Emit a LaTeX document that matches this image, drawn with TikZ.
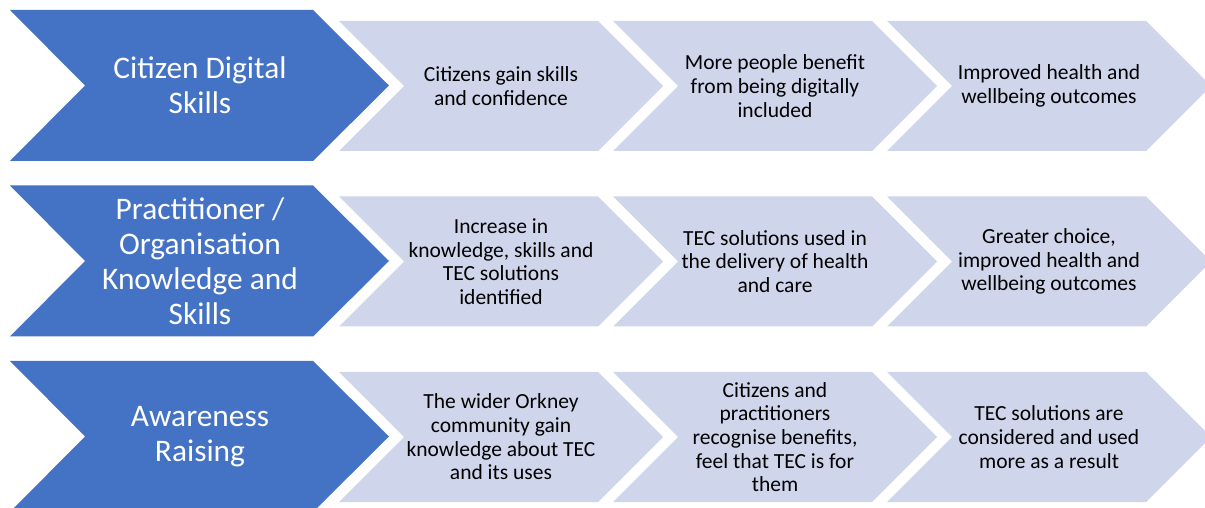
\documentclass[tikz,border=0pt]{standalone}
\usepackage{fontspec}
\setmainfont{Carlito}
\definecolor{headblue}{HTML}{4472C4}
\definecolor{steplav}{HTML}{CFD5EA}
\tikzset{
  head/.style={text=white,align=center,font=\fontsize{31.5}{35}\selectfont},
  stage/.style={text=black,align=center,font=\fontsize{21.6}{23.7}\selectfont}
}

\begin{document}
\begin{tikzpicture}[x=1bp,y=-1bp]
\clip (0,0) rectangle (1205,508);
% big blue chevrons
\foreach \t in {10,185.5,361}
  \fill[headblue] (10,\t) -- (313,\t) -- (389,\t+75.5) -- (313,\t+151)
    -- (10,\t+151) -- (85,\t+75.5) -- cycle;
% light chevrons
\foreach \t in {21,196.5,372}
  \foreach \l in {339,613,887}
    \fill[steplav] (\l,\t) -- (\l+259,\t) -- (\l+324,\t+65) -- (\l+259,\t+130)
      -- (\l,\t+130) -- (\l+65,\t+65) -- cycle;

% row 1
\node[head] (citizen) at (200,85.5) {Citizen Digital\\Skills};
\node[stage] (gain) at (501,86) {Citizens gain skills\\and confidence};
\node[stage] (benefit) at (775,86) {More people benefit\\from being digitally\\included};
\node[stage] (outcomes) at (1049,86) {Improved health and\\wellbeing outcomes};
% row 2
\node[head] (practitioner) at (200,261) {Practitioner /\\Organisation\\Knowledge and\\Skills};
\node[stage] (increase) at (501,261.5) {Increase in\\knowledge, skills and\\TEC solutions\\identified};
\node[stage] (delivery) at (775,261.5) {TEC solutions used in\\the delivery of health\\and care};
\node[stage] (choice) at (1049,261.5) {Greater choice,\\improved health and\\wellbeing outcomes};
% row 3
\node[head] (awareness) at (200,436.5) {Awareness\\Raising};
\node[stage] (orkney) at (501,437) {The wider Orkney\\community gain\\knowledge about TEC\\and its uses};
\node[stage] (recognise) at (775,437) {Citizens and\\practitioners\\recognise benefits,\\feel that TEC is for\\them};
\node[stage] (considered) at (1049,437) {TEC solutions are\\considered and used\\more as a result};
\end{tikzpicture}
\end{document}
